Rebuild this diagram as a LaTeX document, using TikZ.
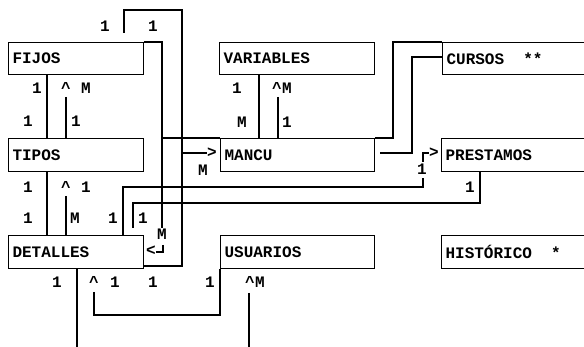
\documentclass[tikz,border=0pt]{standalone}
\usepackage{fontspec}
\setmonofont{Liberation Mono}
\begin{document}
\begin{tikzpicture}[x=1pt,y=-1pt, line width=1.1pt,
  tw/.style={font=\ttfamily\bfseries\fontsize{16}{16}\selectfont},
  box/.style={tw, draw, anchor=north west, inner xsep=4pt, inner ysep=0pt, align=left},
  lab/.style={tw, inner sep=0pt, text height=9.5pt, text depth=0pt, anchor=center}]
\useasboundingbox (0,0) rectangle (584,347);
\fill[white] (0,0) rectangle (584,347);
\clip (0,0) rectangle (584,347);
% boxes
\node[box, minimum width=135pt, minimum height=32pt, text width=127pt] (fijos) at (8,42) {FIJOS};
\node[box, minimum width=155pt, minimum height=32pt, text width=147pt] (variables) at (219,42) {VARIABLES};
\node[box, minimum width=150pt, minimum height=32pt, text width=142pt] (cursos) at (442,42) {CURSOS\hspace{1.2em}**};
\node[box, minimum width=135pt, minimum height=33pt, text width=127pt] (tipos) at (8,138) {TIPOS};
\node[box, minimum width=154pt, minimum height=33pt, text width=146pt] (mancu) at (220,138) {MANCU};
\node[box, minimum width=150pt, minimum height=33pt, text width=142pt] (prestamos) at (441,138) {PRESTAMOS};
\node[box, minimum width=135pt, minimum height=33pt, text width=127pt] (detalles) at (8,235) {DETALLES};
\node[box, minimum width=154pt, minimum height=33pt, text width=146pt] (usuarios) at (220,235) {USUARIOS};
\node[box, minimum width=150pt, minimum height=33pt, text width=142pt] (historico) at (441,235) {HISTÓRICO\hspace{1.2em}*};
% labels
\node[lab] (t1) at (105,27) {1};
\node[lab] (t2) at (153,27) {1};
\node[lab] (f1) at (37,89) {1};
\node[lab] (f2) at (66,89) {\^{}};
\node[lab] (f3) at (86,89) {M};
\node[lab] (f4) at (28,122) {1};
\node[lab] (f5) at (76,122) {1};
\node[lab] (d1) at (28,188) {1};
\node[lab] (d2) at (66,188) {\^{}};
\node[lab] (d3) at (86,188) {1};
\node[lab] (d4) at (28,219) {1};
\node[lab] (d5) at (75,219) {M};
\node[lab] (d6) at (113,219) {1};
\node[lab] (d7) at (143,219) {1};
\node[lab] (d8) at (162,235) {M};
\node[lab] (v1) at (237,89) {1};
\node[lab] (v2) at (277,89) {\^{}};
\node[lab] (v3) at (287,89) {M};
\node[lab] (v4) at (242,123) {M};
\node[lab] (v5) at (287,123) {1};
\node[lab] (m1) at (203,171) {M};
\node[lab] (p1) at (422,170) {1};
\node[lab] (p2) at (470,188) {1};
\node[lab] (b1) at (57,283) {1};
\node[lab] (b2) at (94,283) {\^{}};
\node[lab] (b3) at (115,283) {1};
\node[lab] (b4) at (153,283) {1};
\node[lab] (b5) at (210,283) {1};
\node[lab] (b6) at (250,283) {\^{}};
\node[lab] (b7) at (260,283) {M};
% arrow heads (typed)
\node[lab] (a1) at (212,153) {>};
\node[lab] (a2) at (434,153) {>};
\node[lab] (a3) at (151,251) {<};
% connectors
\draw (47,0 |- fijos.south) -- (47,0 |- tipos.north);
\draw (66,97) -- (66,0 |- tipos.north);
\draw (47,0 |- tipos.south) -- (47,0 |- detalles.north);
\draw (66,196) -- (66,0 |- detalles.north);
\draw (124,33) -- (124,10) -- (182,10) -- (182,266) -- (detalles.east |- 0,266);
\draw (fijos.north east) -- (162,42) -- (162,228);
\draw (162,138) -- (mancu.north west);
\draw (182,153) -- (207,153);
\draw (163,245) -- (163,252) -- (156,252);
\draw (123,0 |- detalles.north) -- (123,187) -- (423,187) -- (423,178);
\draw (423,162) -- (423,153) -- (429,153);
\draw (133,228) -- (133,203) -- (480,203) -- (480,0 |- prestamos.south);
\draw (259,0 |- variables.south) -- (259,0 |- mancu.north);
\draw (278,97) -- (278,0 |- mancu.north);
\draw (mancu.north east) -- (393,138) -- (393,42) -- (cursos.north west);
\draw (380,153) -- (412,153) -- (412,57) -- (cursos.west |- 0,57);
\draw (77,0 |- detalles.south) -- (77,347);
\draw (94,292) -- (94,315) -- (220,315) -- (usuarios.south west);
\draw (249,293) -- (249,347);
\end{tikzpicture}
\end{document}
